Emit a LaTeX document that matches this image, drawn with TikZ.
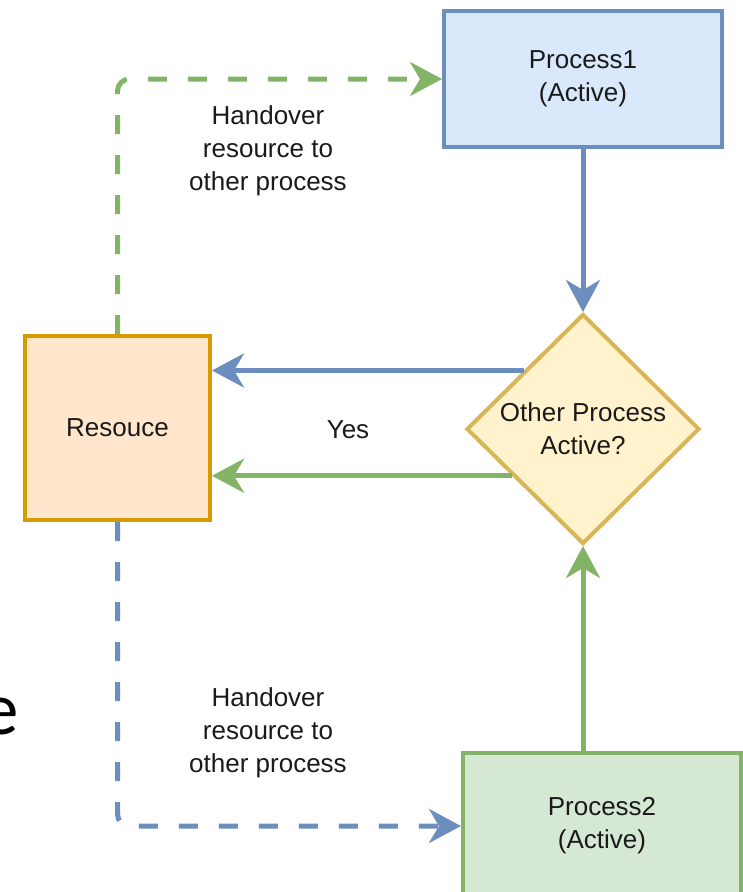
\documentclass[tikz,border=0pt]{standalone}
\usepackage{fontspec}
\setmainfont{Liberation Sans}
\newfontfamily\slidefont{Carlito}
\usetikzlibrary{shapes.geometric,arrows.meta,calc}
\definecolor{bluefill}{HTML}{DAE8FC}
\definecolor{bluedraw}{HTML}{6C8EBF}
\definecolor{orangefill}{HTML}{FFE6CC}
\definecolor{orangedraw}{HTML}{D79B00}
\definecolor{yellowfill}{HTML}{FFF2CC}
\definecolor{yellowdraw}{HTML}{D6B656}
\definecolor{greenfill}{HTML}{D5E8D4}
\definecolor{greendraw}{HTML}{82B366}
\definecolor{txt}{HTML}{1A1A1A}
\begin{document}
\begin{tikzpicture}[x=1pt,y=-1pt,
  lbl/.style={text=txt,font=\fontsize{26}{33}\selectfont,align=center,inner sep=0pt},
  box/.style={lbl,rectangle,line width=4pt,minimum width=278pt,minimum height=136pt},
  conn/.style={line width=5pt,-{Stealth[length=32pt,width=34pt,inset=10pt]}},
  dashconn/.style={conn,dash pattern=on 19pt off 21pt,rounded corners=12pt}
]
\useasboundingbox (0,0) rectangle (743,892);
\begin{scope}
\clip (0,0) rectangle (743,892);
\node[box,draw=bluedraw,fill=bluefill] (p1) at (583,79) {Process1\\(Active)};
\node[box,draw=orangedraw,fill=orangefill,minimum width=185pt,minimum height=184pt] (res) at (117.5,428) {Resouce};
\node[lbl,diamond,draw=yellowdraw,fill=yellowfill,line width=4pt,minimum width=233pt,minimum height=230pt] (dec) at (583,429) {Other Process\\Active?};
\node[box,draw=greendraw,fill=greenfill,minimum height=146pt] (p2) at (602,826) {Process2\\(Active)};

\coordinate (bstart) at ($(dec.west)!0.5!(dec.north)$);
\coordinate (gstart) at ($(dec.west)!0.4!(dec.south)$);

\draw[conn,bluedraw] (p1.south) -- (dec.north);
\draw[conn,greendraw] (dec.south |- p2.north) -- (dec.south);
\draw[conn,bluedraw] (bstart) -- (bstart -| res.east);
\draw[conn,greendraw] (gstart) -- (gstart -| res.east);
\draw[dashconn,greendraw] (res.north) |- (p1.west);
\draw[dashconn,bluedraw] (res.south) |- (p2.west);

\node[lbl] (yes) at (348,430) {Yes};
\node[lbl] (h1) at (268,151) {Handover\\resource to\\other process};
\node[lbl] (h2) at (268,733) {Handover\\resource to\\other process};
\node[anchor=base east,inner sep=0pt,text=black,font=\slidefont\fontsize{75}{80}\selectfont] (e) at (19,734) {e};
\end{scope}
\end{tikzpicture}
\end{document}
